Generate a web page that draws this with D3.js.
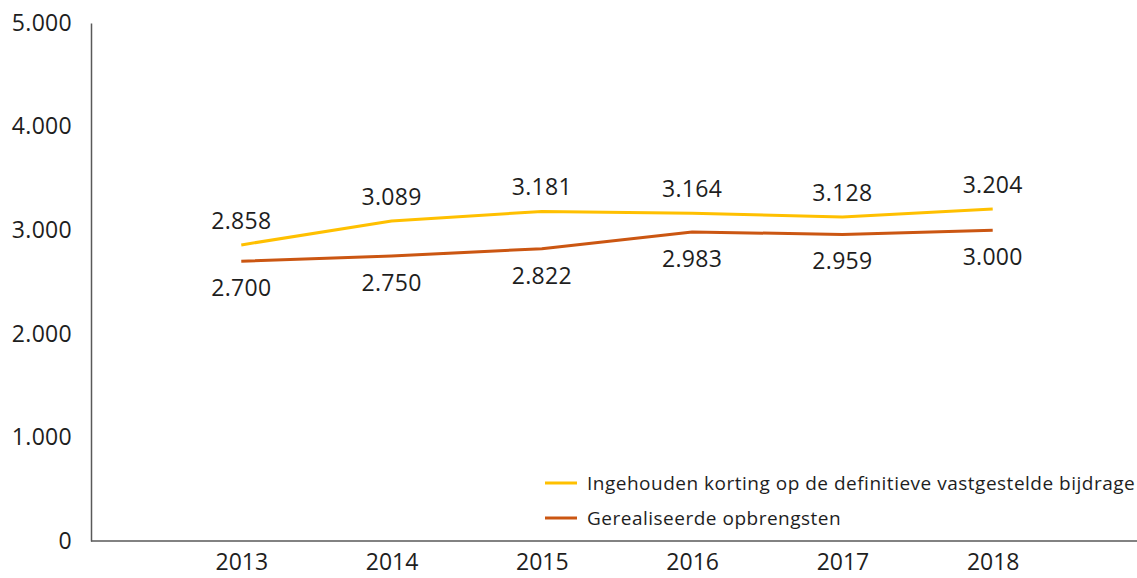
<!DOCTYPE html>
<html>
<head>
<meta charset="utf-8">
<script src="https://cdn.jsdelivr.net/npm/d3@7/dist/d3.min.js"></script>
<style>
  body { margin: 0; background: #fff; }
  svg { display: block; font-family: "Open Sans", sans-serif; }
</style>
</head>
<body>
<div id="chart"></div>
<script>
// Data
const years = ['2013', '2014', '2015', '2016', '2017', '2018'];
const ingehouden = [2858, 3089, 3181, 3164, 3128, 3204];
const gerealiseerd = [2700, 2750, 2822, 2983, 2959, 3000];
const yTicks = [0, 1000, 2000, 3000, 4000, 5000];
const seriesNames = ['Ingehouden korting op de definitieve vastgestelde bijdrage', 'Gerealiseerde opbrengsten'];

const width = 1137;
const height = 578;
const margin = {top: 23, right: 0, bottom: 37, left: 91};

const fmt = d => d3.format(',.0f')(d).replace(/,/g, '.');

let svg = d3.select('#chart').append('svg')
  .attr('width', width)
  .attr('height', height);

let x = d3.scalePoint()
  .domain(years)
  .range([margin.left, width + 6])
  .padding(1);

let y = d3.scaleLinear()
  .domain([0, 5000])
  .range([height - margin.bottom, margin.top]);

// y axis
let yAxis = d3.axisLeft(y)
  .tickValues(yTicks)
  .tickSize(0)
  .tickPadding(19)
  .tickFormat(fmt);
let gy = svg.append('g')
  .attr('transform', `translate(${margin.left}, 0)`)
  .call(yAxis);
gy.select('.domain').attr('stroke', '#595959').attr('stroke-width', 1.5);
gy.selectAll('text')
  .attr('font-size', '23px')
  .attr('letter-spacing', '0.3px')
  .attr('fill', '#1e1e1e')
  .attr('font-family', '"Open Sans", sans-serif');

// x axis
let xAxis = d3.axisBottom(x)
  .tickSize(0)
  .tickPadding(13);
let gx = svg.append('g')
  .attr('transform', `translate(0, ${height - margin.bottom})`)
  .call(xAxis);
gx.select('.domain')
  .attr('d', `M${margin.left},0H${width}`)
  .attr('stroke', '#595959')
  .attr('stroke-width', 1.5);
gx.selectAll('text')
  .attr('font-size', '23px')
  .attr('fill', '#1e1e1e')
  .attr('font-family', '"Open Sans", sans-serif');

const series = [
  {name: seriesNames[0], values: ingehouden, color: '#FFC000', dy: -24},
  {name: seriesNames[1], values: gerealiseerd, color: '#CB5612', dy: 27}
];

let line = d3.line()
  .x((d, i) => x(years[i]))
  .y(d => y(d));

series.forEach(s => {
  svg.append('path')
    .datum(s.values)
    .attr('fill', 'none')
    .attr('stroke', s.color)
    .attr('stroke-width', 3)
    .attr('stroke-linejoin', 'round')
    .attr('d', line);

  svg.append('g')
    .selectAll('text')
    .data(s.values)
    .enter()
    .append('text')
    .attr('x', (d, i) => x(years[i]))
    .attr('y', d => y(d) + s.dy)
    .attr('dy', '0.35em')
    .attr('text-anchor', 'middle')
    .attr('font-size', '23px')
    .attr('letter-spacing', '0.3px')
    .attr('fill', '#1e1e1e')
    .text(d => fmt(d));
});

// legend
let legend = svg.append('g')
  .attr('transform', 'translate(545, 483)');
series.forEach((s, i) => {
  let g = legend.append('g').attr('transform', `translate(0, ${i * 35})`);
  g.append('line')
    .attr('x1', 0).attr('x2', 32)
    .attr('y1', 0).attr('y2', 0)
    .attr('stroke', s.color)
    .attr('stroke-width', 3);
  g.append('text')
    .attr('x', 42)
    .attr('y', 0)
    .attr('dy', '0.35em')
    .attr('font-size', '19px')
    .attr('letter-spacing', '0.5px')
    .attr('fill', '#1e1e1e')
    .text(s.name);
});
</script>
</body>
</html>
